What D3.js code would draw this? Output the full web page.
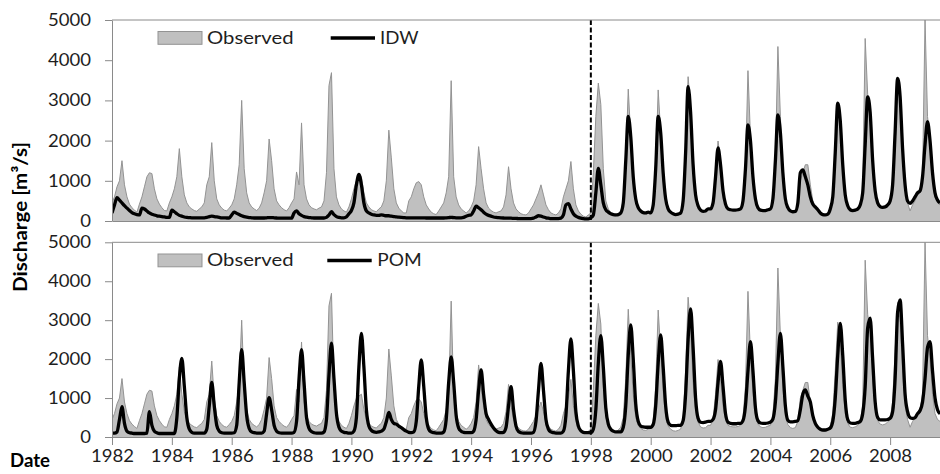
<!DOCTYPE html>
<html>
<head>
<meta charset="utf-8">
<script src="https://cdn.jsdelivr.net/npm/d3@7"></script>
<style>
  html, body { margin: 0; padding: 0; background: #fff; }
  svg { display: block; }
  text { font-family: Lato, "Open Sans", sans-serif; }
</style>
</head>
<body>
<svg id="chart" width="940" height="474"></svg>
<script>
// Monthly discharge series, January 1982 through September 2009 (m³/s)
const startYear = 1982;
const endTime = 2009 + 8 / 12;
const splitYear = 1998;
const yearTicks = [1982, 1984, 1986, 1988, 1990, 1992, 1994, 1996, 1998, 2000, 2002, 2004, 2006, 2008];
const dischargeTicks = [0, 1000, 2000, 3000, 4000, 5000];

const observed = [
  450, 600, 850, 1000, 1500, 900, 600, 420, 330, 270, 220, 420,      // 1982
  600, 850, 1100, 1200, 1180, 800, 550, 420, 330, 260, 250, 450,     // 1983
  600, 800, 1100, 1800, 1100, 650, 450, 350, 300, 260, 240, 300,     // 1984
  350, 450, 900, 1100, 1950, 1000, 550, 400, 320, 270, 250, 320,     // 1985
  400, 550, 900, 1400, 3000, 1300, 700, 450, 350, 300, 260, 320,     // 1986
  450, 700, 1000, 2040, 1500, 800, 500, 400, 330, 280, 250, 330,     // 1987
  450, 550, 1220, 900, 2440, 900, 550, 400, 330, 300, 280, 320,      // 1988
  350, 500, 1200, 3370, 3690, 1300, 600, 400, 300, 250, 220, 350,    // 1989
  550, 800, 1000, 1050, 1100, 700, 450, 350, 280, 250, 230, 300,     // 1990
  350, 500, 1000, 2260, 1570, 800, 450, 320, 250, 200, 200, 500,     // 1991
  600, 800, 950, 980, 900, 600, 400, 300, 220, 180, 160, 250,        // 1992
  350, 450, 700, 1100, 3490, 1100, 600, 400, 300, 250, 200, 250,     // 1993
  350, 500, 900, 1850, 1300, 800, 450, 320, 260, 220, 200, 230,      // 1994
  250, 350, 650, 1350, 800, 450, 300, 230, 180, 160, 150, 200,       // 1995
  300, 400, 550, 700, 900, 650, 400, 280, 200, 170, 150, 200,        // 1996
  300, 600, 800, 1000, 1480, 800, 400, 250, 170, 120, 100, 150,      // 1997
  200, 1200, 2600, 3430, 2900, 1300, 500, 300, 200, 150, 120, 180,   // 1998
  250, 500, 1500, 3280, 2100, 1100, 500, 300, 220, 180, 170, 200,    // 1999
  220, 400, 1300, 3260, 2200, 1200, 500, 280, 200, 160, 150, 170,    // 2000
  200, 500, 1700, 3590, 2800, 1400, 650, 380, 260, 230, 240, 300,    // 2001
  300, 450, 1100, 1990, 1500, 800, 430, 300, 270, 260, 260, 270,     // 2002
  300, 500, 1300, 3740, 2100, 1150, 550, 330, 260, 240, 250, 280,    // 2003
  300, 550, 1500, 4340, 2600, 1250, 550, 320, 240, 220, 240, 400,    // 2004
  1000, 1200, 1400, 1400, 900, 500, 380, 300, 200, 150, 140, 170,    // 2005
  280, 600, 1700, 2950, 2450, 1350, 600, 350, 250, 240, 260, 300,    // 2006
  400, 800, 4540, 3150, 2700, 1500, 700, 420, 330, 310, 330, 380,    // 2007
  450, 900, 2200, 3450, 3000, 1700, 800, 450, 250, 400, 500, 650,    // 2008
  700, 1100, 5000, 2600, 2000, 1100, 600, 450, 400                   // 2009
];

const idw = [
  200, 400, 580, 520, 450, 380, 320, 260, 210, 180, 160, 150,        // 1982
  320, 300, 250, 200, 170, 150, 130, 120, 110, 100, 90, 90,          // 1983
  270, 230, 180, 140, 120, 100, 90, 85, 80, 80, 80, 80,              // 1984
  80, 80, 90, 110, 120, 110, 100, 90, 80, 80, 75, 75,                // 1985
  150, 220, 190, 160, 130, 110, 95, 85, 80, 75, 75, 75,              // 1986
  75, 75, 80, 85, 85, 80, 75, 70, 70, 70, 70, 70,                    // 1987
  70, 200, 250, 180, 140, 110, 95, 85, 80, 75, 75, 75,               // 1988
  75, 75, 90, 150, 230, 160, 110, 90, 80, 80, 100, 180,              // 1989
  260, 450, 900, 1160, 900, 450, 250, 200, 170, 150, 140, 140,       // 1990
  150, 140, 130, 130, 120, 110, 100, 95, 90, 85, 80, 80,             // 1991
  80, 80, 80, 80, 80, 78, 75, 75, 75, 75, 75, 75,                    // 1992
  75, 75, 80, 85, 90, 85, 80, 80, 80, 90, 120, 140,                  // 1993
  150, 250, 370, 330, 280, 220, 170, 140, 120, 100, 90, 85,          // 1994
  80, 75, 70, 70, 70, 65, 65, 60, 60, 60, 60, 60,                    // 1995
  60, 70, 100, 130, 120, 100, 80, 70, 60, 60, 60, 60,                // 1996
  70, 150, 400, 430, 300, 180, 120, 90, 70, 60, 55, 55,              // 1997
  80, 150, 700, 1310, 900, 450, 280, 220, 180, 160, 150, 160,        // 1998
  200, 450, 1500, 2600, 2100, 1100, 550, 330, 250, 210, 200, 220,    // 1999
  200, 400, 1300, 2600, 2200, 1200, 550, 300, 220, 180, 160, 170,    // 2000
  200, 500, 1700, 3340, 2700, 1400, 650, 380, 270, 240, 250, 300,    // 2001
  300, 450, 1100, 1820, 1400, 750, 420, 300, 280, 270, 270, 280,     // 2002
  300, 500, 1300, 2390, 2000, 1100, 550, 330, 270, 260, 260, 280,    // 2003
  300, 550, 1500, 2640, 2200, 1200, 550, 330, 250, 230, 240, 450,    // 2004
  1200, 1270, 1100, 900, 600, 420, 350, 280, 200, 160, 150, 170,     // 2005
  300, 600, 1700, 2930, 2500, 1400, 650, 380, 280, 260, 270, 300,    // 2006
  400, 700, 1900, 3090, 2700, 1500, 750, 450, 360, 340, 350, 400,    // 2007
  500, 900, 2200, 3550, 3100, 1800, 900, 500, 440, 500, 600, 700,    // 2008
  750, 1100, 1900, 2470, 2000, 1200, 700, 520, 450                   // 2009
];

const pom = [
  100, 100, 130, 450, 780, 350, 150, 110, 100, 90, 90, 90,           // 1982
  90, 90, 100, 650, 300, 150, 110, 90, 90, 90, 90, 90,               // 1983
  90, 90, 500, 1500, 2020, 1300, 500, 200, 120, 100, 100, 100,       // 1984
  100, 100, 200, 800, 1400, 800, 300, 150, 110, 100, 100, 100,       // 1985
  100, 110, 300, 1400, 2240, 1400, 550, 220, 130, 110, 100, 100,     // 1986
  100, 150, 600, 1010, 700, 300, 150, 110, 100, 100, 100, 100,       // 1987
  100, 120, 400, 1500, 2240, 1400, 500, 220, 140, 110, 100, 100,     // 1988
  100, 130, 450, 1600, 2410, 1500, 600, 250, 150, 120, 110, 100,     // 1989
  100, 150, 500, 1800, 2660, 1800, 700, 280, 170, 130, 120, 130,     // 1990
  150, 200, 400, 630, 450, 350, 330, 280, 240, 190, 150, 120,        // 1991
  110, 130, 400, 1300, 1980, 1300, 500, 200, 130, 110, 100, 100,     // 1992
  100, 130, 450, 1400, 2060, 1400, 550, 230, 150, 120, 110, 110,     // 1993
  110, 150, 450, 1200, 1720, 1100, 600, 450, 330, 230, 160, 120,     // 1994
  110, 120, 250, 800, 1290, 700, 280, 140, 110, 100, 100, 100,       // 1995
  100, 120, 400, 1200, 1890, 1200, 450, 200, 130, 110, 100, 100,     // 1996
  100, 150, 550, 1700, 2520, 1700, 650, 280, 160, 120, 110, 110,     // 1997
  110, 200, 700, 1900, 2600, 1800, 750, 330, 200, 150, 130, 130,     // 1998
  130, 250, 800, 2100, 2880, 2000, 850, 400, 280, 260, 250, 250,     // 1999
  250, 320, 800, 1900, 2620, 1800, 800, 380, 300, 290, 290, 300,     // 2000
  300, 420, 1100, 2500, 3290, 2300, 1000, 480, 380, 370, 380, 400,   // 2001
  400, 450, 700, 1400, 1940, 1300, 600, 380, 350, 340, 340, 350,     // 2002
  350, 420, 800, 1700, 2450, 1700, 750, 420, 360, 350, 350, 360,     // 2003
  380, 460, 900, 1900, 2660, 1800, 800, 430, 390, 390, 400, 420,     // 2004
  700, 1100, 1210, 1050, 900, 550, 350, 250, 200, 180, 180, 200,     // 2005
  230, 400, 1000, 2100, 2920, 2100, 950, 450, 360, 350, 350, 370,    // 2006
  400, 600, 1300, 2800, 3050, 2000, 900, 500, 440, 440, 440, 450,    // 2007
  480, 650, 1500, 3200, 3520, 2400, 1100, 650, 500, 480, 500, 600,   // 2008
  680, 900, 1500, 2300, 2450, 1700, 1000, 700, 600                   // 2009
];

const monthTime = i => startYear + i / 12;

const svg = d3.select("#chart");
const axisColor = "#8a8a8a";
const tickFont = 17;
const tickStretch = 1.09;

// Widen glyphs slightly so the labels keep their set widths
function stretchText(sel, k) {
  sel.each(function () {
    const w = this.getComputedTextLength();
    d3.select(this).attr("textLength", w * k).attr("lengthAdjust", "spacingAndGlyphs");
  });
}
function fitText(sel, w) {
  sel.attr("textLength", w).attr("lengthAdjust", "spacingAndGlyphs");
}

const x = d3.scaleLinear().domain([startYear, endTime]).range([112, 940]);

const panels = [
  { id: "idw", series: idw, name: "IDW", top: 20, bottom: 221, yearLabels: false,
    legendY: 38, lineX: [330.7, 375], textX: 380, textW: 38.5 },
  { id: "pom", series: pom, name: "POM", top: 242.3, bottom: 437, yearLabels: true,
    legendY: 260.5, lineX: [327.3, 371.7], textX: 377.3, textW: 44.4 }
];

panels.forEach(p => {
  const y = d3.scaleLinear().domain([0, 5000]).range([p.bottom, p.top]);
  const g = svg.append("g").attr("class", "panel-" + p.id);

  g.append("clipPath").attr("id", "clip-" + p.id)
    .append("rect")
    .attr("x", x.range()[0]).attr("y", p.top)
    .attr("width", x.range()[1] - x.range()[0]).attr("height", p.bottom - p.top);

  const plot = g.append("g").attr("clip-path", `url(#clip-${p.id})`);

  // Observed discharge as a filled area
  const area = d3.area()
    .x((d, i) => x(monthTime(i)))
    .y0(y(0))
    .y1(d => y(d));
  plot.append("path").datum(observed)
    .attr("d", area)
    .attr("fill", "#c0c0c0");

  const obsLine = d3.line().x((d, i) => x(monthTime(i))).y(d => y(d));
  plot.append("path").datum(observed)
    .attr("d", obsLine)
    .attr("fill", "none")
    .attr("stroke", "#939393")
    .attr("stroke-width", 1);

  // Simulated discharge
  const simLine = d3.line()
    .x((d, i) => x(monthTime(i)))
    .y(d => y(d))
    .curve(d3.curveMonotoneX);
  plot.append("path").datum(p.series)
    .attr("d", simLine)
    .attr("fill", "none")
    .attr("stroke", "#000")
    .attr("stroke-width", 3.3)
    .attr("stroke-linejoin", "round");

  // Calibration / validation split
  g.append("line")
    .attr("x1", x(splitYear)).attr("x2", x(splitYear))
    .attr("y1", y(5000)).attr("y2", y(0))
    .attr("stroke", "#000")
    .attr("stroke-width", 2)
    .attr("stroke-dasharray", "5,2.5");

  // Top frame line
  g.append("line")
    .attr("x1", x.range()[0]).attr("x2", x.range()[1])
    .attr("y1", y(5000)).attr("y2", y(5000))
    .attr("stroke", axisColor).attr("stroke-width", 1);

  // Vertical axis
  const yAxis = g.append("g")
    .attr("transform", `translate(${x.range()[0]},0)`)
    .call(d3.axisLeft(y).tickValues(dischargeTicks).tickSize(7).tickSizeOuter(0).tickPadding(14)
      .tickFormat(d3.format("d")));
  // Horizontal axis
  const xAxis = g.append("g")
    .attr("transform", `translate(0,${y(0)})`)
    .call(d3.axisBottom(x)
      .tickValues(p.yearLabels ? yearTicks : [])
      .tickSize(8).tickSizeOuter(0).tickPadding(5)
      .tickFormat(d3.format("d")));

  [yAxis, xAxis].forEach(a => {
    a.attr("font-family", null).attr("font-size", null);
    a.selectAll(".domain, .tick line").attr("stroke", axisColor);
    a.selectAll("text")
      .attr("fill", "#1e1e1e")
      .style("font-size", tickFont + "px")
      .call(stretchText, tickStretch);
  });

  // Legend
  const lg = g.append("g").attr("class", "legend");
  lg.append("rect")
    .attr("x", 158).attr("y", p.legendY - 6.5)
    .attr("width", 44).attr("height", 12.8)
    .attr("fill", "#c0c0c0").attr("stroke", "#939393").attr("stroke-width", 1);
  lg.append("text")
    .attr("x", 207).attr("y", p.legendY + 5.8)
    .style("font-size", "18px").attr("fill", "#1e1e1e")
    .text("Observed").call(fitText, 86.5);
  lg.append("line")
    .attr("x1", p.lineX[0]).attr("x2", p.lineX[1])
    .attr("y1", p.legendY).attr("y2", p.legendY)
    .attr("stroke", "#000").attr("stroke-width", 3.5);
  lg.append("text")
    .attr("x", p.textX).attr("y", p.legendY + 5.8)
    .style("font-size", "18px").attr("fill", "#1e1e1e")
    .text(p.name).call(fitText, p.textW);
});

// Axis titles
svg.append("text")
  .attr("transform", "translate(26.5,217) rotate(-90)")
  .attr("text-anchor", "middle")
  .style("font-size", "18.5px").style("font-weight", "bold")
  .attr("fill", "#000")
  .text("Discharge [m³/s]").call(fitText, 150);

svg.append("text")
  .attr("x", 10).attr("y", 467)
  .style("font-size", "18.5px").style("font-weight", "bold")
  .attr("fill", "#000")
  .text("Date").call(fitText, 40);
</script>
</body>
</html>
